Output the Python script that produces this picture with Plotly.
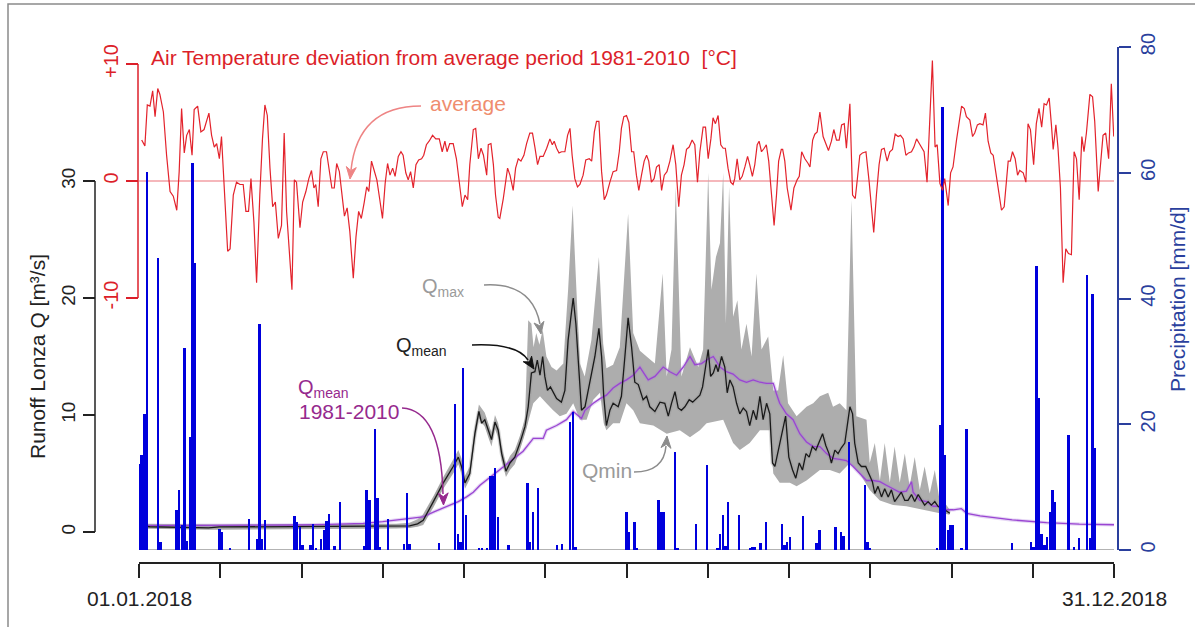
import math
import plotly.graph_objects as go

W, H = 1195, 627

# ---------------- data (day of year 2018, 0 = 1 Jan) ----------------
temp_day = [1.0,2.2,3.1,4.1,5.1,6.0,7.0,7.8,9.1,10.3,11.6,12.8,14.1,15.0,15.9,16.9,17.8,18.8,19.8,20.6,21.9,23.1,24.3,25.2,26.1,27.1,28.1,29.0,30.0,30.8,31.8,33.1,34.0,35.2,36.4,37.7,38.9,39.9,40.9,41.8,42.9,43.9,45.1,46.1,47.0,47.9,48.9,49.9,50.9,52.0,53.2,54.2,55.1,56.1,57.1,58.0,58.8,60.1,61.1,62.3,63.4,64.4,65.3,66.0,66.9,67.9,68.8,70.0,71.0,72.0,72.9,73.8,74.8,75.7,76.7,77.7,78.7,80.0,81.0,82.0,83.0,84.1,85.0,85.8,86.8,87.8,88.8,89.9,90.9,91.9,92.8,93.7,94.7,95.6,96.8,97.8,98.6,99.6,100.5,101.4,102.4,103.4,104.4,105.5,106.3,107.3,108.3,109.6,110.8,112.1,113.2,114.2,115.0,116.0,117.3,118.5,119.8,
            120.7,121.7,122.7,123.5,124.8,125.7,126.7,127.7,128.6,129.8,130.4,131.4,132.3,133.1,134.1,134.7,136.0,137.6,138.5,139.7,140.6,141.6,142.6,143.7,144.7,145.9,146.9,147.8,148.8,149.7,150.9,152.2,153.4,154.3,155.0,155.9,156.8,157.8,159.0,160.0,160.9,161.7,162.7,163.7,164.6,165.8,166.8,168.1,169.0,170.0,170.8,171.7,172.7,173.7,174.5,175.8,177.0,178.3,179.3,180.1,181.0,182.0,182.9,183.9,184.7,185.7,186.6,187.6,188.6,189.5,190.3,191.3,192.3,193.2,194.2,195.1,196.1,197.1,198.2,199.4,200.4,201.5,202.5,203.5,204.4,205.4,206.5,207.5,208.5,209.4,210.6,211.5,212.5,213.5,214.3,215.2,216.2,217.2,218.1,218.9,219.9,220.9,221.8,222.4,223.3,224.3,225.2,226.2,227.2,228.0,229.0,229.9,230.8,231.5,232.4,233.4,234.2,235.1,236.1,237.1,238.0,238.8,239.8,
            240.3,241.1,242.0,243.4,244.5,245.7,246.5,247.4,248.6,249.8,250.5,251.5,252.3,253.2,254.2,255.4,256.4,257.4,258.5,259.4,260.4,261.4,262.3,263.3,264.1,265.4,266.4,267.4,268.2,269.1,270.1,271.4,272.6,273.5,274.3,275.3,276.3,277.2,278.2,279.3,280.3,281.3,282.3,283.4,284.3,285.3,286.3,287.3,288.4,289.3,290.3,291.3,292.1,293.1,294.2,295.2,296.2,297.2,298.0,299.0,300.0,300.8,302.1,303.0,303.9,305.2,306.4,307.1,308.1,308.9,310.2,311.2,312.0,313.0,313.9,315.1,316.0,317.0,318.0,318.9,319.9,321.0,322.0,323.0,323.9,324.5,325.3,326.1,327.1,328.0,328.8,330.1,331.1,331.9,332.8,334.0,335.0,336.0,337.0,337.9,338.8,339.8,340.6,341.3,342.3,343.1,344.0,345.0,346.0,347.0,348.1,349.1,350.0,351.0,352.0,352.8,353.7,355.0,356.0,356.8,358.1,358.9,359.9,360.9,362.0,363.0,363.9]
temp_dev = [3.5,3.0,6.5,6.4,7.7,5.5,7.9,7.4,5.9,2.2,-0.9,-1.3,-2.5,0.8,6.2,2.4,3.9,4.4,2.2,6.1,6.4,4.2,4.4,5.1,5.8,3.9,2.9,3.2,1.9,3.8,-0.1,-6.0,-5.8,-1.2,-0.1,-0.3,-0.3,-2.6,-2.6,0.2,-3.5,-8.7,-1.2,3.6,6.5,5.6,1.1,-2.2,-1.8,-4.9,-3.8,4.1,-2.6,-6.3,-9.3,0.1,-0.1,-4.0,-1.8,-0.9,0.2,0.9,-0.6,-0.3,-2.2,1.9,2.5,2.5,1.1,-0.6,-0.6,1.5,0.8,-0.9,-3.0,-2.3,-4.3,-8.3,-4.8,-2.6,-3.2,-1.8,-0.5,-0.9,1.7,0.9,0.1,-1.6,-3.2,-0.2,1.5,0.5,1.1,0.4,2.1,2.5,2.2,0.7,0.1,0.8,-0.6,1.4,1.8,1.9,2.2,3.1,3.4,3.9,3.6,3.6,2.5,3.4,2.5,3.2,3.2,1.9,-0.6,
            -2.2,-1.2,-1.6,1.4,4.4,4.5,1.9,2.8,2.2,0.5,3.1,3.2,1.4,-1.2,-3.1,-3.2,-1.5,1.1,0.5,-0.8,1.1,1.9,1.7,2.2,3.2,4.1,4.1,2.9,1.4,2.1,2.1,2.8,3.6,3.1,3.4,2.8,2.4,2.5,2.5,3.9,4.5,2.2,0.2,-0.5,-0.3,0.5,1.8,1.9,1.7,4.2,5.1,5.1,0.8,-1.6,-1.2,-0.1,0.8,0.9,2.5,4.5,5.5,5.6,5.0,2.5,2.5,0.5,-0.8,0.5,1.7,2.2,1.7,-0.1,0.2,1.2,1.4,-0.8,0.5,0.8,1.7,3.1,1.4,-2.2,0.5,1.4,2.7,2.9,3.5,3.1,-0.1,2.5,4.6,4.6,1.9,3.6,5.4,4.9,5.6,3.1,2.8,2.8,1.1,-0.1,-0.3,0.2,1.9,0.1,0.4,1.2,2.1,1.4,0.4,1.4,3.1,3.4,2.5,2.8,3.1,1.7,-1.2,-3.8,-1.2,1.7,2.7,
            2.7,1.7,-0.6,-2.5,-0.6,0.1,0.4,2.5,1.9,1.5,1.2,3.5,4.0,4.2,5.9,3.8,3.2,2.6,3.4,4.4,3.5,3.5,4.8,4.9,2.8,6.6,-1.2,-1.5,0.2,2.2,2.4,2.5,-0.1,-2.4,-4.4,-1.2,1.4,2.7,2.8,1.7,2.5,2.7,4.0,3.8,3.9,3.6,2.2,2.4,2.5,2.9,3.6,3.2,2.9,2.5,-0.1,5.1,10.3,2.9,3.1,-0.2,-0.8,0.2,-2.1,0.7,1.2,3.5,5.1,6.4,6.2,5.5,5.2,3.8,4.1,4.8,4.9,4.8,5.8,3.4,2.4,2.2,0.7,-1.2,-2.5,-2.2,0.2,1.7,1.7,2.5,1.9,0.5,0.9,0.7,-0.1,4.9,4.4,1.4,4.9,6.2,4.6,6.6,6.5,7.1,4.9,2.7,4.8,2.8,-0.6,-8.7,-5.8,-6.2,-6.3,2.5,1.9,-1.6,3.8,2.5,4.1,7.4,7.2,5.1,-0.9,1.4,3.9,4.1,1.9,8.3,3.8]

q_day = [0,2,4,12,22,26,30,50,70,90,96,101,104,106.1,109.9,113.6,117.3,119.2,120.4,121.7,123.5,125.4,126.9,127.9,129.1,130.4,131.6,132.9,134.1,135.4,137.0,138.5,140.3,142.2,144.1,145.3,146.5,147.8,148.7,149.7,150.7,151.5,152.5,153.6,154.6,155.9,157.7,159.0,160.2,161.1,162.1,163.1,164.0,165.2,166.5,167.7,169.0,170.2,171.7,172.7,173.5,174.5,175.8,177.0,178.9,180.1,181.4,182.6,183.9,185.1,186.4,188.2,189.5,190.7,192.6,194.5,196.3,197.6,198.8,200.1,201.3,202.5,203.8,205.4,206.7,207.9,209.4,210.4,211.3,212.5,213.4,214.4,215.4,216.2,217.5,218.7,219.6,220.6,221.8,223.1,224.3,225.6,226.8,228.0,229.3,230.5,231.8,233.0,234.3,235.5,236.5,237.4,238.6,239.9,241.4,242.6,244.0,245.2,246.5,247.7,249.0,250.2,251.4,252.7,253.9,255.2,256.4,257.6,258.5,259.8,261.0,262.2,263.5,264.4,265.4,266.4,267.2,268.5,269.7,271.3,272.6,273.8,274.7,275.9,277.2,278.4,279.7,280.9,282.1,283.4,284.6,285.9,287.1,288.4,289.6,290.9,292.1,293.3,294.6,295.8,297.1,298.3,299.6,300.8,302.7]
q_mean = [0.45,0.5,0.45,0.42,0.32,0.35,0.43,0.45,0.45,0.45,0.47,0.52,0.7,1.0,2.6,4.2,5.6,6.4,5.6,4.2,5.0,8.4,10.3,9.3,9.6,8.7,7.9,9.4,8.7,6.7,5.2,5.9,6.4,7.6,9.0,10.7,13.6,13.7,14.7,13.4,15.0,13.3,12.1,12.4,11.9,11.4,11.1,12.1,16.4,18.4,20.0,17.8,14.4,10.4,10.7,12.1,13.7,15.0,17.4,15.0,11.6,9.1,10.4,11.0,10.7,11.6,15.0,18.3,15.8,12.8,12.6,11.3,11.6,10.7,10.3,11.1,11.0,9.9,11.0,12.0,10.6,10.4,10.7,11.3,11.1,11.4,11.7,12.4,13.8,15.6,13.3,13.6,14.3,13.7,15.0,14.1,11.9,13.0,12.4,11.0,10.1,10.6,10.3,9.1,10.4,9.6,11.6,9.6,11.0,10.1,5.9,5.6,6.9,8.4,9.9,6.4,5.3,4.6,5.9,5.3,6.7,6.4,7.3,7.0,7.6,8.4,7.4,6.7,5.9,7.0,6.7,7.2,7.6,9.3,10.7,10.1,7.6,5.9,5.6,5.6,4.9,4.3,3.3,3.9,3.0,3.7,3.0,3.6,2.6,3.0,3.4,2.7,2.7,3.2,2.6,3.2,2.7,2.3,2.6,2.3,2.6,2.2,2.0,1.9,1.6]

qmax_day = [0,30,96,101,104,106,110,113.6,117.3,119.2,120.4,121.7,123.5,125.4,126.9,129.1,130.4,131.6,132.9,134.1,135.4,137.0,138.5,140.3,142.2,144.1,145.3,146.5,147.3,148.3,149.5,150.7,152.1,154.0,155.9,158.4,160.2,161.9,163.3,164.6,166.4,168.9,171.7,173.3,174.5,177.0,179.5,182.6,184.5,187.0,189.5,192.6,195.5,197.0,198.8,200.4,202.5,205.7,208.8,210.6,212.5,213.7,215.4,216.9,218.1,219.1,220.3,221.8,223.4,224.9,226.8,228.7,230.5,232.4,234.9,236.8,238.6,240.5,242.3,245.5,249.2,251.7,254.2,257.3,259.1,261.6,264.1,266.0,267.8,271.6,272.8,274.7,276.6,278.4,280.3,282.1,284.0,285.9,287.7,289.6,291.5,293.3,295.2,297.1,298.9,300.8,302.7]
q_max = [0.7,0.65,0.7,0.8,1.1,1.5,3.1,4.7,6.2,7.0,6.3,4.8,5.6,9.0,10.9,10.2,9.3,8.5,10.0,9.3,7.3,5.8,6.5,7.0,8.2,9.7,18.1,17.8,15.8,17.0,16.0,17.3,15.0,14.1,13.8,14.4,20.7,27.9,20.7,14.4,13.3,16.4,23.5,16.1,14.0,14.3,15.8,27.2,17.0,15.5,15.0,14.4,22.1,13.3,15.6,29.5,13.3,15.8,14.1,15.6,30.7,20.7,23.5,24.7,30.7,17.8,29.5,18.4,19.8,15.6,17.8,15.0,22.1,15.6,16.7,12.1,12.1,15.1,11.0,9.9,10.7,11.0,11.6,11.9,10.7,11.0,10.4,28.4,9.9,9.6,5.9,7.6,4.4,7.6,4.2,7.3,4.2,6.7,3.9,6.4,3.6,5.6,3.3,5.3,2.7,2.5,1.9]

qmin_day = [0,30,96,101,104,106.1,109.9,113.6,117.3,119.2,120.4,121.7,123.5,125.4,126.9,129.1,130.4,131.6,132.9,134.1,135.4,137.0,138.5,140.3,142.2,144.1,145.3,147.2,149.7,152.1,154.6,157.1,159.6,162.1,164.6,167.1,169.6,172.1,173.5,174.5,177.0,179.5,182.0,184.5,187.0,192.0,197.0,201.9,205.7,209.4,211.9,218.1,221.8,224.3,228.0,231.8,235.5,236.8,239.2,243.0,245.5,249.2,254.2,257.9,261.6,265.4,269.1,272.8,276.6,281.5,286.5,292.7,299.0,302.7]
q_min = [0.3,0.2,0.3,0.35,0.45,0.6,2.1,3.7,5.0,5.8,5.0,3.7,4.5,7.8,9.7,9.0,8.1,7.3,8.8,8.1,6.1,4.7,5.3,5.8,7.0,8.4,9.3,11.0,11.6,11.0,10.4,9.9,10.1,11.0,9.6,9.6,11.3,11.9,9.3,8.7,9.3,9.3,11.0,10.4,9.3,9.1,8.4,8.7,8.1,8.7,9.3,9.6,7.6,7.0,7.6,8.7,8.7,5.0,4.2,4.2,3.9,4.4,5.3,5.3,5.0,5.9,5.0,3.6,2.7,2.3,2.2,1.9,1.6,1.5]

qclim_day = [0,20,40,60,71,83.7,91,96,102,106,109.9,114.8,119.2,122.3,124.8,127.3,132.2,136,139.7,143.4,147.2,150.9,152.1,155.9,159.6,162.1,165.2,166.5,169.6,172.1,174.5,177.0,179.5,182.0,184.5,187.0,190.1,192.6,195.7,198.2,200.7,203.2,205.7,207.5,210.0,211.9,214.4,216.9,219.3,221.8,224.3,226.8,229.3,231.8,234.3,236.8,238.0,239.2,241.7,244.2,246.7,249.2,251.7,254.2,256.7,259.1,261.6,264.1,266.6,269.1,271.6,274.1,276.6,279.0,281.5,284.0,286.5,288.4,289.0,291.5,294.0,296.5,299.0,301.4,304.0,307.0,309.0,314,326,338.8,351,364]
q_clim = [0.55,0.55,0.55,0.6,0.65,0.74,0.88,1.0,1.17,1.3,1.7,2.2,2.6,3.0,3.4,4.0,4.9,5.6,6.2,6.9,8.0,8.0,8.7,9.1,9.6,10.3,9.7,10.4,11.0,11.4,11.7,12.3,12.7,13.0,13.4,14.1,13.0,13.3,14.1,13.7,13.4,14.1,15.0,14.3,14.4,14.7,15.0,14.1,13.7,13.5,13.0,12.8,13.0,12.8,12.7,12.7,11.8,11.0,10.1,9.6,8.4,7.7,7.3,7.3,6.7,6.3,6.2,6.1,5.6,5.0,4.4,4.4,4.3,4.0,3.7,3.4,3.5,4.3,3.4,2.7,2.6,2.2,2.2,1.9,1.9,2.0,1.6,1.37,1.03,0.8,0.68,0.62]

precip_day = [0,1,2,3,7,8,14,15,16,17,18,19,20,21,30,31,34,41,44,45,46,47,58,59,60,61,64,65,66,68,69,70,71,73,75,84,85,86,88,89,90,93,99,100,101,112,118,119,120,121,122,127,128,130,131,132,133,134,138,145,146,147,149,156,158,161,162,163,182,183,185,186,194,195,196,200,201,208,212,216,217,218,219,220,224,228,229,230,232,234,240,241,242,243,248,253,254,260,262,263,265,271,272,273,298,299,300,301,302,303,304,307,309,326,333,334,335,336,337,338,339,340,341,342,347,349,351,354,355,356,357]
precip = [13.7,15.1,21.6,60.1,46.4,1.3,6.4,9.5,4.0,32.1,1.5,18.0,61.5,45.6,3.4,2.9,0.3,5.0,1.8,36.0,1.8,4.8,5.4,4.4,3.6,0.8,0.8,4.1,0.3,1.7,3.2,4.6,5.8,0.6,7.6,0.6,9.6,8.0,19.2,8.3,0.5,5.0,0.9,9.0,0.9,1.1,23.3,2.6,1.3,29.0,5.6,0.3,0.3,0.3,11.7,11.7,13.0,5.3,0.8,10.6,1.2,6.0,9.8,0.8,0.9,20.4,22.0,0.4,6.1,2.8,4.4,0.3,7.9,6.0,6.0,15.6,0.3,4.2,13.5,0.3,2.6,5.6,0.7,7.7,5.6,0.3,0.4,0.4,1.1,4.5,4.2,0.8,1.3,2.0,5.4,1.1,3.2,3.7,2.9,2.2,17.1,10.3,1.3,0.2,0.3,19.9,70.4,15.1,3.2,3.9,3.9,0.3,19.3,1.1,1.2,0.5,45.2,24.1,2.6,0.8,2.1,6.1,9.5,7.6,18.3,0.5,1.9,43.7,1.9,40.7,16.2]

x_tick_labels = ["01.01.2018", "", "", "", "", "", "", "", "", "", "", "", "31.12.2018"]
q_ticks = [0, 10, 20, 30]
t_ticks = [-10, 0, 10]
t_tick_labels = ["-10", "0", "+10"]
p_ticks = [0, 20, 40, 60, 80]

# ---------------- geometry (pixels) ----------------
def px(x):
    return x / W

def py(y):
    return 1 - y / H

X_LEFT, X_RIGHT, Y_TOP, Y_BOTTOM = 139, 1114, 47, 550
DAY_LAST = 364
UNIT_PX = 11.7           # px per m3/s and per degC
Q_ZERO_PX, T_ZERO_PX = 532, 181
q_range = [-(Y_BOTTOM - Q_ZERO_PX) / UNIT_PX, (Q_ZERO_PX - Y_TOP) / UNIT_PX]
t_range = [-(Y_BOTTOM - T_ZERO_PX) / UNIT_PX, (T_ZERO_PX - Y_TOP) / UNIT_PX]
y_domain = [py(Y_BOTTOM), py(Y_TOP)]
x_tick_vals = [i * DAY_LAST / 12 for i in range(13)]

FONT = "Liberation Sans, Arial, Helvetica, sans-serif"
RED = "#dc1f2a"
RED_LINE = "#e3232c"
AVG_LINE = "#ec7078"
SALMON = "#ef8d6e"
AVG_ARROW = "#ee8484"
BLUE_BAR = "#0000dc"
BLUE_AX = "#2a3f9d"
PURPLE_LINE = "#9a45d2"
PURPLE_TXT = "#962a8e"
GREY_BAND = "#adadad"
GREY_TXT = "#9a9a9a"
GREY_ARROW = "#8c8c8c"
DARK = "#222222"

fig = go.Figure()

# grey band Qmin..Qmax
band_x = qmax_day + qmin_day[::-1]
band_y = q_max + q_min[::-1]
fig.add_trace(go.Scatter(x=band_x, y=band_y, fill="toself", fillcolor=GREY_BAND,
                         mode="lines", line=dict(width=0), hoverinfo="skip", yaxis="y"))
# soft halo of Qmean
fig.add_trace(go.Scatter(x=q_day, y=q_mean, mode="lines",
                         line=dict(color="rgba(150,150,150,0.35)", width=4), hoverinfo="skip", yaxis="y"))
# climatological mean
fig.add_trace(go.Scatter(x=qclim_day, y=q_clim, mode="lines",
                         line=dict(color="rgba(170,120,220,0.3)", width=3.5), hoverinfo="skip", yaxis="y"))
fig.add_trace(go.Scatter(x=qclim_day, y=q_clim, mode="lines",
                         line=dict(color=PURPLE_LINE, width=1.3), yaxis="y"))
# Qmean 2018
fig.add_trace(go.Scatter(x=q_day, y=q_mean, mode="lines",
                         line=dict(color="#1a1a1a", width=1.3), yaxis="y"))
# precipitation bars
fig.add_trace(go.Bar(x=precip_day, y=precip, width=0.9, marker=dict(color=BLUE_BAR, line=dict(width=0)),
                     yaxis="y2"))
# temperature deviation
fig.add_trace(go.Scatter(x=temp_day, y=temp_dev, mode="lines",
                         line=dict(color=RED_LINE, width=1.2), yaxis="y3"))

shapes = [
    # outer frame
    dict(type="rect", xref="paper", yref="paper", x0=px(8), x1=px(1205), y0=py(640), y1=py(4),
         line=dict(color="#8a8a8a", width=1.5), fillcolor="rgba(0,0,0,0)", layer="below"),
    # runoff axis line
    dict(type="line", xref="paper", yref="y", x0=px(95), x1=px(95), y0=q_ticks[0], y1=q_ticks[-1],
         line=dict(color=DARK, width=1.5)),
    # temperature axis line
    dict(type="line", xref="paper", yref="y3", x0=px(138), x1=px(138), y0=t_ticks[0], y1=t_ticks[-1],
         line=dict(color=RED, width=1.5)),
    # temperature average line
    dict(type="line", xref="x", yref="y3", x0=0, x1=DAY_LAST, y0=0, y1=0,
         line=dict(color=AVG_LINE, width=1.1), layer="below"),
    # precipitation baseline
    dict(type="line", xref="x", yref="y2", x0=0, x1=DAY_LAST, y0=0, y1=0,
         line=dict(color="#9a9a9a", width=1.5), layer="below"),
]

def pp(x, y):
    return "{:.5f},{:.5f}".format(px(x), py(y))

def curve(p0, c, p1, color):
    path = "M {} Q {} {}".format(pp(*p0), pp(*c), pp(*p1))
    return dict(type="path", xref="paper", yref="paper", path=path,
                line=dict(color=color, width=1.5))

def head(tip, tail, color, length=12, half=5):
    dx, dy = tip[0] - tail[0], tip[1] - tail[1]
    n = math.hypot(dx, dy)
    ux, uy = dx / n, dy / n
    bx, by = tip[0] - length * ux, tip[1] - length * uy
    nx, ny = -uy, ux
    notch = (tip[0] - 0.7 * length * ux, tip[1] - 0.7 * length * uy)
    path = "M {} L {} L {} L {} Z".format(pp(*tip), pp(bx + half * nx, by + half * ny), pp(*notch),
                                          pp(bx - half * nx, by - half * ny))
    return dict(type="path", xref="paper", yref="paper", path=path,
                line=dict(color=color, width=1), fillcolor=color)

arrow_specs = [
    # start, control, end, tip, color
    ((421, 106), (358, 106), (351, 170), (350, 179), AVG_ARROW),
    ((484, 285), (532, 282), (540, 324), (541, 334), GREY_ARROW),
    ((472, 345), (517, 343), (528, 360), (534, 369), "#111111"),
    ((402, 408), (441, 410), (443, 494), (443.5, 505), PURPLE_TXT),
    ((634, 472), (664, 472), (666, 446), (667, 436), GREY_ARROW),
]
for p0, c, p1, tip, col in arrow_specs:
    shapes.append(curve(p0, c, p1, col))
    shapes.append(head(tip, c, col))

def label(text, x, y, color, size=21, xanchor="left", angle=0):
    return dict(text=text, x=px(x), y=py(y), xref="paper", yref="paper", showarrow=False,
                xanchor=xanchor, yanchor="middle", textangle=angle,
                font=dict(family=FONT, size=size, color=color))

annotations = [
    label("Air Temperature deviation from average period 1981-2010\u00a0 [°C]", 149, 57, RED),
    label("average", 428, 103, SALMON),
    label("Q<sub>max</sub>", 420, 287, GREY_TXT, 20),
    label("Q<sub>mean</sub>", 394, 346, DARK, 20),
    label("Q<sub>mean</sub>", 296, 388, PURPLE_TXT, 20),
    label("1981-2010", 297, 411, PURPLE_TXT),
    label("Qmin", 580, 470, GREY_TXT),
    label("Runoff Lonza Q [m³/s]", 37, 357, DARK, 21, "center", -90),
    label("Precipitation [mm/d]", 1177, 299, BLUE_AX, 21, "center", -90),
]
# x tick labels (only the two end dates are labelled)
for val, txt in zip(x_tick_vals, x_tick_labels):
    if txt:
        annotations.append(dict(text=txt, x=val, xref="x", y=py(598), yref="paper", showarrow=False,
                                xanchor="center", yanchor="middle",
                                font=dict(family=FONT, size=21, color=DARK)))

fig.update_layout(
    width=W, height=H, margin=dict(l=0, r=0, t=0, b=0),
    paper_bgcolor="white", plot_bgcolor="rgba(0,0,0,0)",
    showlegend=False, bargap=0, font=dict(family=FONT),
    xaxis=dict(domain=[px(X_LEFT), px(X_RIGHT)], range=[0, DAY_LAST], anchor="free", position=py(563),
               showline=True, linecolor=DARK, linewidth=1.5, ticks="outside", ticklen=14, tickwidth=1.5,
               tickcolor=DARK, tickvals=x_tick_vals, showticklabels=False,
               showgrid=False, zeroline=False, automargin=False),
    yaxis=dict(domain=y_domain, range=q_range, anchor="free", position=px(95), side="left",
               showline=False, ticks="outside", ticklen=12, tickwidth=1.5, tickcolor=DARK,
               tickvals=q_ticks, tickangle=-90, tickfont=dict(size=19, color=DARK),
               showgrid=False, zeroline=False, automargin=False),
    yaxis2=dict(domain=y_domain, range=[0, 80], overlaying="y", anchor="free", position=px(1118), side="right",
                showline=True, linecolor=BLUE_AX, linewidth=1.5, ticks="outside", ticklen=12, tickwidth=1.5,
                tickcolor=BLUE_AX, tickvals=p_ticks, tickangle=-90, tickfont=dict(size=20, color=BLUE_AX),
                showgrid=False, zeroline=False, automargin=False),
    yaxis3=dict(domain=y_domain, range=t_range, overlaying="y", anchor="free", position=px(138), side="left",
                showline=False, ticks="outside", ticklen=12, tickwidth=1.5, tickcolor=RED,
                tickvals=t_ticks, ticktext=t_tick_labels, tickangle=-90, tickfont=dict(size=20, color=RED),
                showgrid=False, zeroline=False, automargin=False),
    shapes=shapes,
    annotations=annotations,
)

fig.write_html("out.html")
